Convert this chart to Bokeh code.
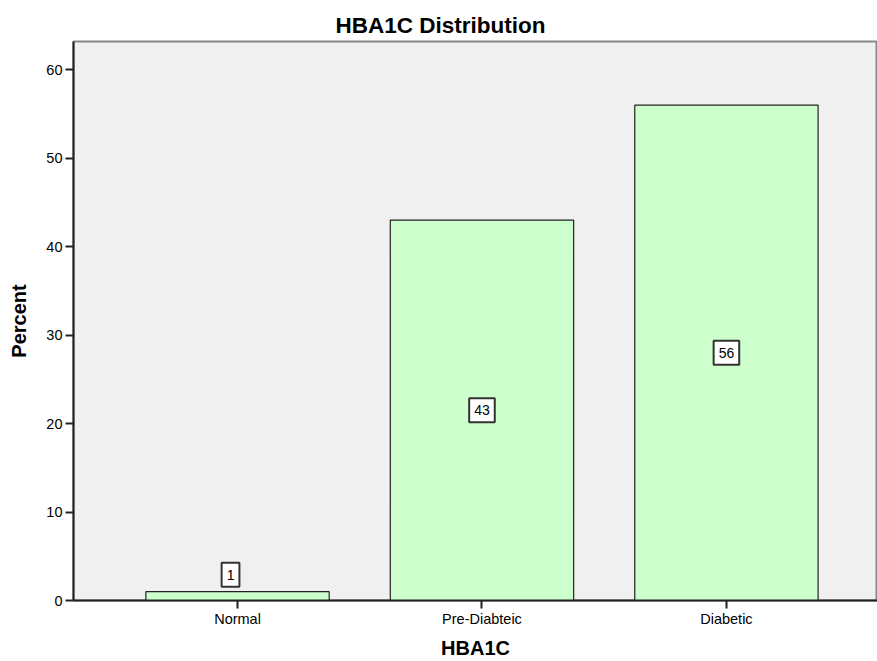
from bokeh.plotting import figure
from bokeh.models import Range1d, FixedTicker, ColumnDataSource, Title
from bokeh.core.properties import value
from bokeh.embed import file_html
from bokeh.resources import INLINE

categories = ["Normal", "Pre-Diabteic", "Diabetic"]
percent = [1, 43, 56]
y_ticks = [0, 10, 20, 30, 40, 50, 60]

xs = list(range(len(categories)))

p = figure(width=877, height=661, output_backend="svg", toolbar_location=None,
           x_range=Range1d(-0.671, 2.618), y_range=Range1d(0, 63.2),
           min_border_left=73, min_border_right=0, min_border_top=41, min_border_bottom=59)
p.title = Title(text="HBA1C Distribution", align="left", offset=262, standoff=7,
                text_font="Liberation Sans", text_font_size="22.5px", text_font_style="bold",
                text_color="#000000")
p.background_fill_color = "#f0f0f0"
p.border_fill_color = "white"
p.outline_line_color = "#888888"
p.outline_line_width = 2
p.xgrid.visible = False
p.ygrid.visible = False

src = ColumnDataSource(dict(x=xs, top=percent, cat=categories,
                            label=[str(v) for v in percent],
                            ly=[v / 2 if v > 5 else v for v in percent],
                            yoff=[0 if v > 5 else -17 for v in percent],
                            xoff=[0 if v > 5 else -7 for v in percent]))
p.vbar(x="x", top="top", width=0.75, bottom=0, source=src,
       fill_color="#ccffcc", line_color="#222222", line_width=1.2)

p.text(x="x", y="ly", text="label", source=src, x_offset="xoff", y_offset="yoff",
       text_align="center", text_baseline="middle",
       text_font=value("Liberation Sans"), text_font_size="14px", text_color="#000000",
       background_fill_color="white", border_line_color="#333333",
       border_line_width=2, padding=dict(left=5, right=5, top=7, bottom=7))

p.xaxis.ticker = FixedTicker(ticks=xs)
p.xaxis.major_label_overrides = {i: c for i, c in zip(xs, categories)}
p.yaxis.ticker = FixedTicker(ticks=y_ticks)

for ax in (p.xaxis, p.yaxis):
    ax.axis_line_color = "#222222"
    ax.axis_line_width = 2
    ax.major_tick_line_color = "#222222"
    ax.major_tick_line_width = 2
    ax.major_tick_out = 8
    ax.major_tick_in = 0
    ax.minor_tick_line_color = None
    ax.major_label_text_font = "Liberation Sans"
    ax.major_label_text_font_size = "14.5px"
    ax.major_label_text_color = "#000000"
    ax.axis_label_text_font = "Liberation Sans"
    ax.axis_label_text_font_size = "20px"
    ax.axis_label_text_font_style = "bold"
    ax.axis_label_text_color = "#000000"

p.xaxis.axis_label = "HBA1C"
p.yaxis.axis_label = "Percent"
p.xaxis.major_label_standoff = 2
p.yaxis.major_label_standoff = 3
p.xaxis.axis_label_standoff = 7
p.yaxis.axis_label_standoff = 13

open("out.html", "w").write(file_html(p, INLINE))
